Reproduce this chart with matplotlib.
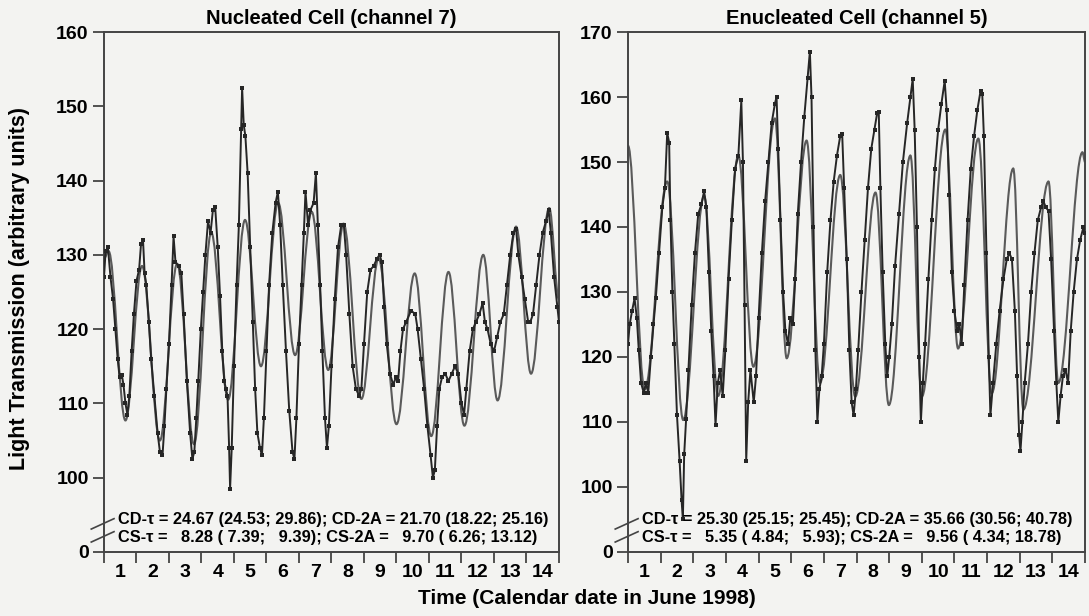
import numpy as np
import matplotlib
matplotlib.use('Agg')
import matplotlib.pyplot as plt
from matplotlib.path import Path
from matplotlib.patches import PathPatch

plt.rcParams['font.family'] = ['Liberation Sans', 'DejaVu Sans']
plt.rcParams['font.weight'] = 'bold'

# 测量数据 (左: 有核细胞 channel 7), 单位: 天 / 透光度
left_t = [0.0, 0.05, 0.12, 0.2, 0.28, 0.35, 0.42, 0.48, 0.55, 0.6, 0.66, 0.72, 0.78, 0.85, 0.92,
          1.0, 1.08, 1.14, 1.2, 1.25, 1.3, 1.38, 1.45, 1.55, 1.65, 1.72, 1.8, 1.86, 1.92,
          2.0, 2.08, 2.14, 2.2, 2.3, 2.38, 2.45, 2.55, 2.65, 2.72, 2.78, 2.84, 2.9, 2.98,
          3.05, 3.12, 3.2, 3.28, 3.35, 3.42, 3.5, 3.57, 3.64, 3.7, 3.75, 3.8, 3.85, 3.88, 3.93,
          4.0, 4.08, 4.15, 4.22, 4.25, 4.3, 4.35, 4.42, 4.5, 4.58, 4.65, 4.72, 4.8, 4.86, 4.92,
          5.0, 5.08, 5.18, 5.28, 5.35, 5.42, 5.5, 5.6, 5.7, 5.8, 5.86, 5.92,
          6.0, 6.08, 6.15, 6.2, 6.28, 6.35, 6.45, 6.52, 6.58, 6.65, 6.72, 6.8, 6.86, 6.92,
          7.0, 7.1, 7.2, 7.3, 7.38, 7.45, 7.55, 7.65, 7.75, 7.85, 7.92,
          8.0, 8.1, 8.2, 8.3, 8.4, 8.48, 8.55, 8.62, 8.7, 8.8, 8.9, 8.98,
          9.05, 9.12, 9.2, 9.3, 9.45, 9.58, 9.65, 9.75, 9.85, 9.95,
          10.05, 10.12, 10.18, 10.25, 10.32, 10.4, 10.5, 10.6, 10.7, 10.8, 10.9,
          11.0, 11.08, 11.15, 11.25, 11.35, 11.45, 11.55, 11.65, 11.72, 11.8, 11.9,
          12.0, 12.1, 12.2, 12.3, 12.4, 12.5, 12.6, 12.68, 12.75, 12.85, 12.95,
          13.05, 13.12, 13.2, 13.3, 13.4, 13.5, 13.6, 13.68, 13.75, 13.85, 13.95, 14.0]
left_v = [127, 130.5, 131, 127, 124, 120, 116, 113.5, 113.8, 112.5, 110, 108.5, 111, 117, 122,
          126.5, 128, 131.5, 132, 127.5, 126, 121, 116, 111, 106, 103.5, 103, 107, 112,
          118, 126, 132.5, 129, 128.5, 127.5, 122, 113, 106, 102.5, 103.5, 108, 113, 120,
          125, 130, 134.5, 133, 136, 136.5, 131, 124.5, 117, 113, 112, 111, 104, 98.5, 104,
          115, 126, 134, 147, 152.5, 147.5, 146, 141, 131, 121, 112, 106, 104, 103, 108,
          117, 126, 133, 137, 138.5, 134, 126, 117, 109, 103.5, 102.5, 108,
          118, 126, 133, 138.5, 134, 136, 137, 141, 134, 126, 117, 108, 104, 107,
          115, 124, 131, 134, 134, 130, 122, 115, 112, 111, 112,
          118, 125, 128, 128.5, 129.5, 130, 129, 123, 118, 114, 112.5, 113.5,
          113, 117, 120, 121, 122.5, 122, 120, 116, 112, 107,
          103, 100, 101, 107, 112, 113.5, 114, 113, 114, 115, 114,
          110, 108.5, 112, 117, 120, 121, 122, 123.5, 121, 120, 118,
          117, 119, 121, 122, 126, 130, 133, 133.5, 130, 127, 124,
          121, 121, 122, 126, 130, 133, 134.5, 136, 133, 127, 123, 121]

# 拟合曲线的峰谷 (左)
left_fit_t = [0.0, 0.14, 0.66, 1.17, 1.72, 2.25, 2.77, 3.3, 3.82, 4.34, 4.83, 5.36, 5.88, 6.39, 6.9,
              7.37, 7.92, 8.45, 9.0, 9.56, 10.07, 10.6, 11.09, 11.67, 12.11, 12.68, 13.14, 13.7, 14.0]
left_fit_v = [129.5, 130.5, 107.7, 128.5, 105, 128.8, 104.5, 133, 110.5, 134.7, 115, 137, 116.5, 135.8, 114.5,
              134.2, 110.6, 129.5, 107.2, 127.5, 105.6, 127.7, 107, 130, 110.4, 133.8, 114, 136.3, 124]

# 测量数据 (右: 去核细胞 channel 5)
right_t = [0.0, 0.05, 0.12, 0.2, 0.27, 0.33, 0.4, 0.48, 0.55, 0.62, 0.7, 0.78, 0.85, 0.95,
           1.05, 1.13, 1.2, 1.26, 1.3, 1.36, 1.42, 1.5, 1.58, 1.64, 1.68, 1.72, 1.78, 1.85, 1.95,
           2.05, 2.15, 2.25, 2.33, 2.4, 2.48, 2.55, 2.62, 2.68, 2.75, 2.82, 2.9, 2.98,
           3.08, 3.18, 3.28, 3.38, 3.47, 3.52, 3.57, 3.62, 3.68, 3.75, 3.85, 3.92,
           4.0, 4.1, 4.2, 4.3, 4.4, 4.5, 4.55, 4.6, 4.67, 4.75, 4.82, 4.9, 4.97,
           5.05, 5.12, 5.2, 5.3, 5.4, 5.5, 5.57, 5.62, 5.68, 5.74, 5.8, 5.86, 5.93,
           6.0, 6.1, 6.2, 6.3, 6.4, 6.5, 6.56, 6.62, 6.7, 6.78, 6.85, 6.91, 6.98,
           7.05, 7.15, 7.25, 7.35, 7.45, 7.55, 7.63, 7.68, 7.73, 7.8, 7.88, 7.94,
           8.0, 8.08, 8.18, 8.3, 8.42, 8.55, 8.65, 8.72, 8.78, 8.85, 8.92, 8.97,
           9.03, 9.1, 9.2, 9.3, 9.4, 9.5, 9.6, 9.7, 9.76, 9.84, 9.92,
           10.0, 10.08, 10.15, 10.22, 10.3, 10.4, 10.5, 10.6, 10.7, 10.8, 10.85, 10.9, 10.98,
           11.05, 11.1, 11.18, 11.28, 11.38, 11.5, 11.6, 11.68, 11.76, 11.85, 11.92, 11.98,
           12.02, 12.08, 12.15, 12.25, 12.35, 12.45, 12.55, 12.65, 12.72, 12.8, 12.88, 12.96,
           13.05, 13.12, 13.18, 13.25, 13.32, 13.4, 13.48, 13.56, 13.65, 13.75, 13.85, 13.95, 14.0]
right_v = [122, 125, 127, 129, 126, 121, 116, 114.5, 116, 114.5, 120, 125, 129, 136,
           143, 146, 154.5, 153, 141, 130, 122, 111, 104, 98, 95, 105, 110.5, 118, 128,
           136, 142, 143.5, 145.5, 143, 133, 124, 117, 109.5, 116, 118, 114, 121,
           132, 141, 149, 151, 159.5, 150, 128, 104, 113, 118, 113, 117,
           126, 136, 144, 150, 156, 159, 160, 152, 141, 130, 124, 122, 126,
           125, 132, 142, 150, 157, 163, 167, 160, 140, 121, 110, 115, 117,
           122, 133, 141, 147, 151, 154, 154.3, 146, 135, 121, 113, 111, 115,
           121, 130, 138, 146, 152, 155, 157.5, 157.7, 146, 133, 122, 117,
           120, 125, 134, 142, 150, 156, 160, 162.8, 155, 140, 120, 110,
           116, 122, 132, 141, 149, 155, 159, 162.5, 158, 145, 133,
           127, 124, 125, 122, 131, 141, 149, 154, 158, 161, 160.5, 154, 136,
           120, 111, 116, 122, 127, 132, 135, 136, 135, 127, 117, 108,
           105.5, 110, 116, 122, 130, 136, 141, 143, 144, 143, 142.5, 135,
           124, 116, 110, 114, 117, 118, 116, 124, 130, 135, 138, 140, 139]

# 拟合曲线的峰谷 (右)
right_fit_t = [0.0, 0.51, 1.2, 1.69, 2.33, 2.76, 3.38, 3.84, 4.5, 4.86, 5.47, 5.88, 6.5, 6.96,
               7.58, 7.99, 8.65, 9.0, 9.72, 10.11, 10.73, 11.14, 11.8, 12.11, 12.88, 13.18, 13.92, 14.0]
right_fit_v = [152.5, 115, 147, 110.3, 144.8, 114, 151, 118.5, 156.7, 119.8, 153.3, 116, 148, 113.9,
               145.3, 112.6, 151, 113.9, 155, 121.3, 153.6, 114.4, 149, 111.9, 147, 116, 151.5, 150]

day_labels = [str(d) for d in range(1, 15)]
stats_left = ['CD-\u03c4 = 24.67 (24.53; 29.86); CD-2A = 21.70 (18.22; 25.16)',
              'CS-\u03c4 =   8.28 ( 7.39;   9.39); CS-2A =   9.70 ( 6.26; 13.12)']
stats_right = ['CD-\u03c4 = 25.30 (25.15; 25.45); CD-2A = 35.66 (30.56; 40.78)',
               'CS-\u03c4 =   5.35 ( 4.84;   5.93); CS-2A =   9.56 ( 4.34; 18.78)']

bg = '#f3f3f1'
ink = '#262626'


def smooth_path(t, v, k=0.3634):
    # 峰谷之间用三次贝塞尔曲线连接 (水平切线)
    verts = [(t[0], v[0])]
    codes = [Path.MOVETO]
    for i in range(len(t) - 1):
        dt = t[i + 1] - t[i]
        verts += [(t[i] + k * dt, v[i]), (t[i + 1] - k * dt, v[i + 1]), (t[i + 1], v[i + 1])]
        codes += [Path.CURVE4] * 3
    return Path(verts, codes)


def draw_panel(ax, t, v, ft, fv, ymax, title, stats):
    ax.set_facecolor(bg)
    ax.add_patch(PathPatch(smooth_path(ft, fv), fill=False, edgecolor='#5a5a5a', lw=1.5, zorder=2))
    ax.plot(t, v, '-', color=ink, lw=1.4, marker='s', ms=2.6, mew=0, zorder=3)
    ax.set_xlim(0, 14)
    ax.set_ylim(90, ymax)
    yt = list(range(90, ymax + 1, 10))
    ax.set_yticks(yt)
    ax.set_yticklabels(['0'] + [str(y) for y in yt[1:]])
    ax.set_xticks(range(0, 15))
    ax.set_xticklabels([])
    ax.set_xticks(np.arange(0.5, 14, 1.0), minor=True)
    ax.set_xticklabels(day_labels, minor=True)
    ax.tick_params(axis='x', which='major', direction='out', length=8, width=1.3, color='#444')
    ax.tick_params(axis='x', which='minor', length=0, pad=9, labelsize=14)
    ax.tick_params(axis='y', direction='out', length=8, width=1.3, color='#444', labelsize=14, pad=3)
    for s in ax.spines.values():
        s.set_color('#444')
        s.set_linewidth(1.4)
    ax.set_title(title, fontsize=14.5, fontweight='bold', pad=6)
    ax.text(0.031, 0.062, stats[0], transform=ax.transAxes, fontsize=11.8, va='center', ha='left')
    ax.text(0.031, 0.027, stats[1], transform=ax.transAxes, fontsize=11.8, va='center', ha='left')
    # 断轴标记
    ax.plot([-0.028, 0.022], [0.044, 0.064], transform=ax.transAxes, color='#444', lw=1.2, clip_on=False)
    ax.plot([-0.028, 0.022], [0.019, 0.039], transform=ax.transAxes, color='#444', lw=1.2, clip_on=False)


fig = plt.figure(figsize=(10.89, 6.16), dpi=100, facecolor=bg)
ax1 = fig.add_axes([0.0955, 0.104, 0.4178, 0.844])
ax2 = fig.add_axes([0.5767, 0.104, 0.4197, 0.844])

draw_panel(ax1, left_t, left_v, left_fit_t, left_fit_v, 160, 'Nucleated Cell (channel 7)', stats_left)
draw_panel(ax2, right_t, right_v, right_fit_t, right_fit_v, 170, 'Enucleated Cell (channel 5)', stats_right)

fig.text(20 / 1089, 1 - 289 / 616, 'Light Transmission (arbitrary units)', rotation=90,
         ha='center', va='center', fontsize=15.5, fontweight='bold')
fig.text(587 / 1089, 1 - 599 / 616, 'Time (Calendar date in June 1998)',
         ha='center', va='center', fontsize=15, fontweight='bold')

fig.savefig('out.png', dpi=100, facecolor=bg)
